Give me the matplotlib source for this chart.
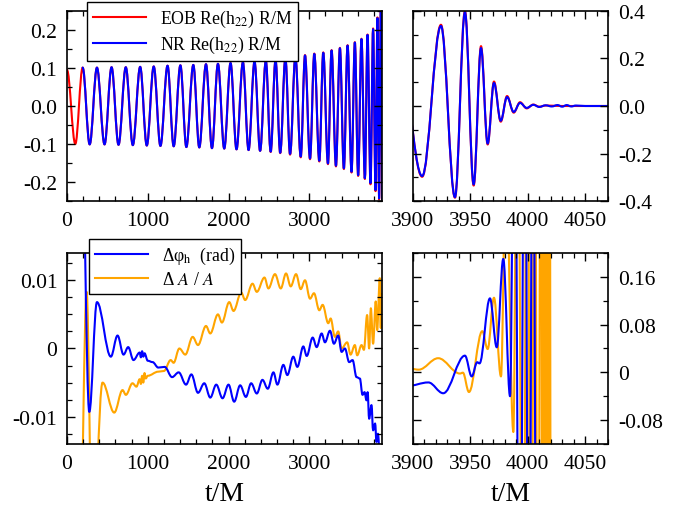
import matplotlib
matplotlib.use("Agg")
import matplotlib.pyplot as plt
from matplotlib.path import Path
from matplotlib.patches import PathPatch
from matplotlib.lines import Line2D
from matplotlib.ticker import MultipleLocator, FormatStrFormatter, FuncFormatter

plt.rcParams['font.family'] = 'serif'
plt.rcParams['font.serif'] = ['Liberation Serif', 'DejaVu Serif']
plt.rcParams['mathtext.fontset'] = 'stix'
plt.rcParams['axes.unicode_minus'] = False

# turning points (t/M, value) of the (2,2) waveform, R/M scaled
nr_t = [194, 281, 371, 465, 552, 638, 728, 815, 906, 988, 1074, 1157, 1245, 1321,
        1404, 1478, 1564, 1638, 1721, 1795, 1869, 1947, 2025, 2099, 2178, 2248,
        2322, 2391, 2462, 2522, 2582, 2640, 2704, 2762, 2828, 2894, 2947, 3009,
        3062, 3124, 3173, 3231, 3276, 3330, 3379, 3428, 3474, 3523, 3564, 3605,
        3646, 3688, 3721, 3758, 3790, 3820, 3844, 3864, 3887, 3908, 3924.4,
        3936.6, 3945.3, 3952.9, 3959.3, 3965.1, 3970.6, 3976.5, 3982.0, 3987.8,
        3993.3, 3999.1, 4004.9, 4010.0, 4015.7, 4021, 4026, 4030, 4034, 4038,
        4042, 4050, 4070]
nr_h = [0.101, -0.101, 0.101, -0.101, 0.102, -0.102, 0.102, -0.103, 0.103, -0.104,
        0.104, -0.105, 0.106, -0.106, 0.107, -0.108, 0.108, -0.109, 0.110, -0.111,
        0.111, -0.112, 0.113, -0.114, 0.115, -0.116, 0.117, -0.118, 0.119, -0.120,
        0.122, -0.123, 0.126, -0.126, 0.130, -0.133, 0.133, -0.138, 0.137, -0.144,
        0.140, -0.151, 0.146, -0.157, 0.152, -0.164, 0.159, -0.173, 0.167, -0.182,
        0.176, -0.190, 0.187, -0.203, 0.202, -0.221, 0.231, -0.243, 0.280, -0.295,
        0.337, -0.384, 0.395, -0.330, 0.244, -0.158, 0.097, -0.062, 0.038, -0.025,
        0.013, -0.008, 0.005, -0.004, 0.003, -0.002, 0.004, -0.003, 0.004, -0.002,
        0.002, 0.0, 0.0]

eob_t = [0, 103, 194, 281, 371, 465, 552, 638, 728, 815, 906, 988, 1074, 1157,
         1245, 1321, 1404, 1478, 1564, 1638, 1721, 1795, 1869, 1947, 2025, 2099,
         2178, 2248, 2322, 2391, 2462, 2522, 2582, 2640, 2704, 2762, 2828, 2894,
         2947, 3009, 3062, 3124, 3173, 3231, 3276, 3330, 3379, 3428, 3474, 3523,
         3564, 3605, 3646, 3688, 3721, 3758, 3790, 3820, 3844, 3864, 3887, 3908,
         3924.4, 3936.6, 3945.3, 3952.9, 3959.3, 3965.1, 3970.6, 3976.5, 3982.0,
         3987.8, 3993.3, 3999.1, 4004.9, 4010.0, 4015.7, 4030, 4070]
eob_h = [0.095, -0.100, 0.101, -0.101, 0.101, -0.101, 0.102, -0.102, 0.102, -0.103,
         0.103, -0.104, 0.104, -0.105, 0.106, -0.106, 0.107, -0.108, 0.108, -0.109,
         0.110, -0.111, 0.111, -0.112, 0.113, -0.114, 0.115, -0.116, 0.117, -0.118,
         0.119, -0.121, 0.122, -0.124, 0.126, -0.128, 0.130, -0.135, 0.134, -0.140,
         0.138, -0.146, 0.141, -0.153, 0.147, -0.159, 0.153, -0.166, 0.160, -0.175,
         0.168, -0.184, 0.177, -0.192, 0.188, -0.206, 0.204, -0.224, 0.233, -0.246,
         0.283, -0.298, 0.342, -0.386, 0.400, -0.335, 0.252, -0.162, 0.103, -0.066,
         0.042, -0.028, 0.016, -0.010, 0.006, -0.003, 0.002, 0.0, 0.0]

# phase difference (rad) between EOB and NR
dphi_t = [170, 276, 371, 543, 626, 700, 758, 823, 900, 915, 930, 945, 960, 1000,
          1060, 1130, 1210, 1301, 1383, 1474, 1540, 1622, 1700, 1774, 1848, 1926,
          2000, 2070, 2144, 2215, 2280, 2350, 2420, 2486, 2556, 2605, 2679, 2728,
          2802, 2852, 2926, 2968, 3042, 3091, 3153, 3194, 3256, 3305, 3358, 3400,
          3441, 3494, 3536, 3585, 3626, 3659, 3684, 3708, 3722, 3741, 3770, 3790,
          3815, 3832, 3850, 3895, 3913.4, 3926.4, 3945.3, 3951.2, 3956, 3958,
          3967.1, 3973, 3978.7, 3984.6, 3988.5, 3993, 3997.5, 4001, 4004.5, 4008]
dphi = [0.040, -0.0093, 0.0068, -0.0012, 0.0019, -0.0009, 0.0002, -0.0017, -0.0006,
        -0.0013, -0.0004, -0.0012, -0.0007, -0.0018, -0.0020, -0.0028, -0.0027,
        -0.0042, -0.0035, -0.0053, -0.0038, -0.0065, -0.0051, -0.0072, -0.0053,
        -0.0073, -0.0053, -0.0078, -0.0054, -0.0071, -0.0051, -0.0066, -0.0046,
        -0.0059, -0.0035, -0.0053, -0.0024, -0.0039, -0.0012, -0.0027, 0.0003,
        -0.0011, 0.0016, 0.0002, 0.0022, 0.0009, 0.0026, 0.0007, 0.0019, -0.0005,
        0.0000, -0.0020, -0.0017, -0.0042, -0.0044, -0.0068, -0.0064, -0.0076,
        -0.0064, -0.0103, -0.0083, -0.0120, -0.0110, -0.0137, -0.0125, -0.0230,
        -0.0169, -0.035, 0.028, -0.0068, 0.017, 0.015, 0.124, 0.042, 0.190, -0.040,
        0.6, -0.6, 0.6, -0.6, 0.6, -0.6]

# relative amplitude difference
damp_t = [160, 243, 315, 440, 585, 688, 729, 811, 860, 900, 915, 930, 945, 960,
          975, 1000, 1130, 1200, 1284, 1320, 1391, 1465, 1556, 1622, 1721, 1774,
          1869, 1918, 2009, 2062, 2157, 2206, 2297, 2350, 2445, 2494, 2575, 2647,
          2712, 2770, 2836, 2894, 2947, 3009, 3058, 3124, 3165, 3235, 3264, 3317,
          3358, 3400, 3469, 3511, 3564, 3593, 3647, 3676, 3716, 3741, 3762, 3790,
          3823, 3840, 3873, 3885, 3893, 3905, 3922, 3941, 3943.5, 3948.8, 3960.4,
          3965.1, 3970.6, 3976.7, 3981, 3987.5, 3991, 3996, 3999.5, 4003, 4006,
          4009, 4011.5, 4013, 4014.3, 4015.5, 4016.7, 4017.9, 4019.1, 4020.3]
damp = [-0.030, 0.0083, -0.030, -0.0050, -0.0094, -0.0061, -0.0068, -0.0051,
        -0.0056, -0.0045, -0.0052, -0.0040, -0.0050, -0.0036, -0.0044, -0.0040,
        -0.0034, -0.0033, -0.0017, -0.0021, 0.0000, -0.0009, 0.0017, 0.0005, 0.0033,
        0.0022, 0.0050, 0.0038, 0.0068, 0.0055, 0.0082, 0.0071, 0.0095, 0.0083,
        0.0104, 0.0088, 0.0109, 0.0088, 0.0110, 0.0091, 0.0109, 0.0087, 0.0100,
        0.0073, 0.0081, 0.0056, 0.0064, 0.0037, 0.0044, 0.0017, 0.0025, 0.0000,
        0.0009, -0.0009, 0.0005, -0.0010, 0.0005, -0.0002, 0.0049, 0.0000, 0.0059,
        0.0007, 0.0069, 0.0027, 0.0103, 0.0030, 0.0080, 0.0045, 0.0237, -0.002,
        -0.0005, -0.033, 0.069, 0.039, 0.125, -0.0068, 0.35, -0.10, 0.6, -0.6, 0.6,
        -0.6, 0.6, -0.6, 0.6, -0.6, 0.6, -0.6, 0.6, -0.6, 0.6, -0.6]


def smooth_curve(ts, vs, color, lw=1.5):
    # cubic Bezier through the turning points, flat tangent at each one
    k = 0.3634
    verts = [(ts[0], vs[0])]
    codes = [Path.MOVETO]
    for t0, v0, t1, v1 in zip(ts[:-1], vs[:-1], ts[1:], vs[1:]):
        d = t1 - t0
        verts += [(t0 + k * d, v0), (t1 - k * d, v1), (t1, v1)]
        codes += [Path.CURVE4] * 3
    return PathPatch(Path(verts, codes), facecolor='none', edgecolor=color,
                     lw=lw, capstyle='round', joinstyle='round')


def style(ax, right=False):
    ax.tick_params(which='both', direction='in', top=True, right=True,
                   labelsize=15.5, pad=7)
    ax.tick_params(which='major', length=6, width=1)
    ax.tick_params(which='minor', length=3.5, width=0.9)
    if right:
        ax.tick_params(labelleft=False, labelright=True)
    for s in ax.spines.values():
        s.set_linewidth(1.2)


red, blue, orange = '#ff0000', '#0000ff', '#ffa500'

fig = plt.figure(figsize=(6.78, 5.10), dpi=100)
ax1 = fig.add_axes([0.0988, 0.6039, 0.4646, 0.3726])
ax2 = fig.add_axes([0.6091, 0.6039, 0.2877, 0.3726])
ax3 = fig.add_axes([0.0988, 0.1275, 0.4646, 0.3745])
ax4 = fig.add_axes([0.6091, 0.1275, 0.2877, 0.3745])

for ax in (ax1, ax2):
    ax.add_patch(smooth_curve(eob_t, eob_h, red))
    ax.add_patch(smooth_curve(nr_t, nr_h, blue))
for ax in (ax3, ax4):
    ax.add_patch(smooth_curve(damp_t, damp, orange))
    ax.add_patch(smooth_curve(dphi_t, dphi, blue))

ax1.set_xlim(0, 3900)
ax1.set_ylim(-0.25, 0.25)
ax1.xaxis.set_major_locator(MultipleLocator(1000))
ax1.xaxis.set_minor_locator(MultipleLocator(200))
ax1.yaxis.set_major_locator(MultipleLocator(0.1))
ax1.yaxis.set_minor_locator(MultipleLocator(0.05))
ax1.yaxis.set_major_formatter(FormatStrFormatter('%.1f'))
style(ax1)

ax2.set_xlim(3900, 4070)
ax2.set_ylim(-0.4, 0.4)
ax2.xaxis.set_major_locator(MultipleLocator(50))
ax2.xaxis.set_minor_locator(MultipleLocator(10))
ax2.yaxis.set_major_locator(MultipleLocator(0.2))
ax2.yaxis.set_minor_locator(MultipleLocator(0.1))
ax2.yaxis.set_major_formatter(FormatStrFormatter('%.1f'))
style(ax2, right=True)

gfmt = FuncFormatter(lambda v, p: '%g' % round(v, 6))
ax3.set_xlim(0, 3900)
ax3.set_ylim(-0.014, 0.014)
ax3.xaxis.set_major_locator(MultipleLocator(1000))
ax3.xaxis.set_minor_locator(MultipleLocator(200))
ax3.yaxis.set_major_locator(MultipleLocator(0.01))
ax3.yaxis.set_minor_locator(MultipleLocator(0.0025))
ax3.yaxis.set_major_formatter(gfmt)
style(ax3)

ax4.set_xlim(3900, 4070)
ax4.set_ylim(-0.12, 0.2)
ax4.xaxis.set_major_locator(MultipleLocator(50))
ax4.xaxis.set_minor_locator(MultipleLocator(10))
ax4.yaxis.set_major_locator(MultipleLocator(0.08))
ax4.yaxis.set_minor_locator(MultipleLocator(0.04))
ax4.yaxis.set_major_formatter(gfmt)
style(ax4, right=True)

for ax in (ax3, ax4):
    ax.set_xlabel('t/M', fontsize=20, labelpad=6)

leg_kw = dict(loc='upper left', fontsize=12.8, frameon=True, fancybox=False,
              edgecolor='black', framealpha=1, handlelength=3.0,
              handletextpad=0.8, labelspacing=0.28, borderpad=0.32,
              borderaxespad=0)
top_handles = [Line2D([], [], color=red, lw=1.5, label=r'EOB Re(h$_{22}$) R/M'),
               Line2D([], [], color=blue, lw=1.5, label=r'NR Re(h$_{22}$) R/M')]
lg1 = ax1.legend(handles=top_handles, bbox_to_anchor=(0.063, 1.047), **leg_kw)
lg1.get_frame().set_linewidth(1.0)

bot_handles = [Line2D([], [], color=blue, lw=1.5, label=r'Δφ$_{\rm h}$  (rad)'),
               Line2D([], [], color=orange, lw=1.5, label=r'Δ $A$ / $A$')]
lg2 = ax3.legend(handles=bot_handles, bbox_to_anchor=(0.07, 1.073), **leg_kw)
lg2.get_frame().set_linewidth(1.0)

fig.savefig('out.png', dpi=100)
